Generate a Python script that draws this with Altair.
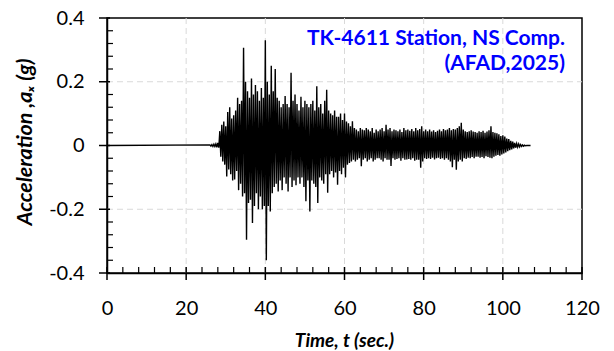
import altair as alt
import pandas as pd

# ---------------- data ----------------
record_start = 26.0      # s, first sample of the strong-motion part
sample_dt = 0.25         # s, spacing of the digitised peaks
lead_t = [0.0]           # quiet part before the record
tail_t = [106.0, 107.0]  # quiet part after the record

# acceleration peaks in milli-g, 10 values per 2.5 s
acc_mg = [
    2, -2, 3, -3, 4, -3, 5, -6, 8, -7,                    # 26.0
    45, -35, 65, -50, 75, -60, 60, -97, 105, -75,         # 28.5
    120, -90, 85, -110, 95, -107, 110, -80, 150, -140,    # 31.0
    130, -120, 140, -160, 307, -150, 200, -296, 170, -180,  # 33.5
    150, -170, 210, -243, 160, -190, 190, -150, 170, -200,  # 36.0
    140, -160, 180, -200, 150, -190, 330, -360, 200, -190,  # 38.5
    160, -207, 250, -150, 170, -130, 240, -120, 150, -144,  # 41.0
    140, -110, 120, -140, 130, -100, 155, -120, 130, -144,  # 43.5
    120, -100, 228, -130, 140, -110, 160, -125, 130, -100,  # 46.0
    110, -120, 153, -100, 120, -130, 140, -175, 130, -110,  # 48.5
    120, -207, 130, -110, 140, -120, 110, -130, 186, -180,  # 51.0
    120, -100, 130, -110, 100, -120, 140, -90, 175, -148,   # 53.5
    110, -90, 100, -80, 95, -100, 110, -85, 90, -123,       # 56.0
    90, -80, 100, -90, 80, -70, 100, -100, 75, -60,         # 58.5
    70, -55, 60, -50, 76, -45, 55, -50, 50, -45,            # 61.0
    45, -40, 55, -65, 50, -45, 48, -40, 55, -50,            # 63.5
    50, -45, 45, -40, 55, -50, 40, -45, 50, -40,            # 66.0
    45, -40, 50, -45, 55, -50, 45, -40, 65, -45,            # 68.5
    50, -45, 55, -64, 45, -40, 50, -45, 48, -42,            # 71.0
    45, -40, 50, -48, 42, -40, 55, -45, 48, -44,            # 73.5
    50, -42, 46, -45, 52, -40, 45, -48, 55, -45,            # 76.0
    48, -45, 52, -70, 60, -50, 45, -40, 50, -42,            # 78.5
    45, -40, 50, -42, 44, -38, 48, -44, 42, -40,            # 81.0
    46, -38, 50, -42, 45, -40, 52, -45, 48, -40,            # 83.5
    50, -45, 55, -50, 48, -68, 52, -45, 50, -76,            # 86.0
    55, -50, 60, -45, 71, -50, 50, -40, 45, -42,            # 88.5
    42, -38, 45, -40, 48, -36, 44, -40, 42, -35,            # 91.0
    40, -35, 45, -38, 42, -36, 46, -40, 40, -34,            # 93.5
    44, -36, 48, -38, 60, -40, 42, -35, 40, -32,            # 96.0
    38, -30, 35, -32, 30, -28, 32, -25, 28, -22,            # 98.5
    22, -18, 20, -15, 15, -12, 12, -9, 8, -7,               # 101.0
    6, -5, 5, -4, 3, -3, 2, -2, 1, -1,                      # 103.5
]

x_major = [0, 20, 40, 60, 80, 100, 120]
x_minor = [4, 8, 12, 16, 24, 28, 32, 36, 44, 48, 52, 56, 64, 68, 72, 76,
           84, 88, 92, 96, 104, 108, 112, 116]
y_major = [-0.4, -0.2, 0.0, 0.2, 0.4]
y_minor = [-0.36, -0.32, -0.28, -0.24, -0.16, -0.12, -0.08, -0.04,
           0.04, 0.08, 0.12, 0.16, 0.24, 0.28, 0.32, 0.36]
x_grid = [20, 40, 60, 80, 100]
y_grid = [-0.2, 0.2]

x_title = "Time, t (sec.)"
y_title = "Acceleration ,a\u2093 (g)"
note_line1 = "TK-4611 Station, NS Comp."
note_line2 = "(AFAD,2025)"

# ---------------- tables ----------------
times = lead_t + [record_start + sample_dt * i for i in range(len(acc_mg))] + tail_t
accs = [0.0] + [v / 1000.0 for v in acc_mg] + [0.0, 0.0]
df = pd.DataFrame({"t": times, "a": accs})

W, H = 475, 255
FONT = "Lato"
GRID = "#d9d9d9"
xs = alt.Scale(domain=[0, 120], nice=False, zero=False)
ys = alt.Scale(domain=[-0.4, 0.4], nice=False, zero=False)

x_axis = alt.Axis(
    values=x_major, title=None, ticks=False, grid=False,
    domainColor="black", domainWidth=1.5,
    labelFont=FONT, labelFontSize=20, labelColor="black",
    labelPadding=25, labelFlush=False)
y_axis = alt.Axis(
    values=y_major, title=None, ticks=False, grid=False,
    domainColor="black", domainWidth=1.5,
    labelFont=FONT, labelFontSize=20, labelColor="black",
    labelPadding=23, labelFlush=False,
    labelExpr="datum.value < -1e-9 ? '-' + format(-datum.value, '.1~f') : format(abs(datum.value) < 1e-9 ? 0 : datum.value, '.1~f')")

gx = alt.Chart(pd.DataFrame({"t": x_grid})).mark_rule(
    color=GRID, strokeWidth=1, strokeDash=[6, 4]).encode(
    x=alt.X("t:Q", scale=xs, axis=x_axis), y=alt.value(0), y2=alt.value(H))
gy = alt.Chart(pd.DataFrame({"a": y_grid})).mark_rule(
    color=GRID, strokeWidth=1, strokeDash=[6, 4]).encode(
    y=alt.Y("a:Q", scale=ys, axis=y_axis), x=alt.value(0), x2=alt.value(W))

line = alt.Chart(df).mark_line(color="black", strokeWidth=1.4, clip=True).encode(
    x=alt.X("t:Q", scale=xs, axis=x_axis),
    y=alt.Y("a:Q", scale=ys, axis=y_axis),
)

xmaj = alt.Chart(pd.DataFrame({"t": x_major})).mark_rule(color="black", strokeWidth=1.5).encode(
    x=alt.X("t:Q", scale=xs, axis=x_axis), y=alt.value(H - 6), y2=alt.value(H + 7))
xmin = alt.Chart(pd.DataFrame({"t": x_minor})).mark_rule(color="black", strokeWidth=1.2).encode(
    x=alt.X("t:Q", scale=xs, axis=x_axis), y=alt.value(H - 6), y2=alt.value(H))
ymaj = alt.Chart(pd.DataFrame({"a": y_major})).mark_rule(color="black", strokeWidth=1.5).encode(
    y=alt.Y("a:Q", scale=ys, axis=y_axis), x=alt.value(-8), x2=alt.value(3))
ymin = alt.Chart(pd.DataFrame({"a": y_minor})).mark_rule(color="black", strokeWidth=1.2).encode(
    y=alt.Y("a:Q", scale=ys, axis=y_axis), x=alt.value(0), x2=alt.value(6))

ttl_x = alt.Chart(pd.DataFrame({"s": [x_title]})).mark_text(
    font=FONT, fontSize=19, fontWeight="bold", fontStyle="italic", color="black",
    align="center", baseline="middle").encode(
    x=alt.value(W / 2), y=alt.value(323), text="s:N")
ttl_y = alt.Chart(pd.DataFrame({"s": [y_title]})).mark_text(
    font=FONT, fontSize=21.5, fontWeight="bold", fontStyle="italic", color="black",
    align="center", baseline="middle", angle=270).encode(
    x=alt.value(-81), y=alt.value(124), text="s:N")
note1 = alt.Chart(pd.DataFrame({"s": [note_line1]})).mark_text(
    font=FONT, fontSize=21, fontWeight="bold", color="#0000FF",
    align="right", baseline="alphabetic").encode(
    x=alt.value(W - 17), y=alt.value(27), text="s:N")
note2 = alt.Chart(pd.DataFrame({"s": [note_line2]})).mark_text(
    font=FONT, fontSize=21, fontWeight="bold", color="#0000FF",
    align="right", baseline="alphabetic").encode(
    x=alt.value(W - 17), y=alt.value(52), text="s:N")

chart = alt.layer(gx, gy, line, xmaj, xmin, ymaj, ymin, ttl_x, ttl_y, note1, note2).properties(
    width=W, height=H,
    autosize=alt.AutoSizeParams(type="none"),
    padding={"left": 99, "top": 10, "right": 24, "bottom": 78},
).configure_view(stroke="black", strokeWidth=1.5)

chart.save("out.html", embed_options={"renderer": "svg", "actions": False})
